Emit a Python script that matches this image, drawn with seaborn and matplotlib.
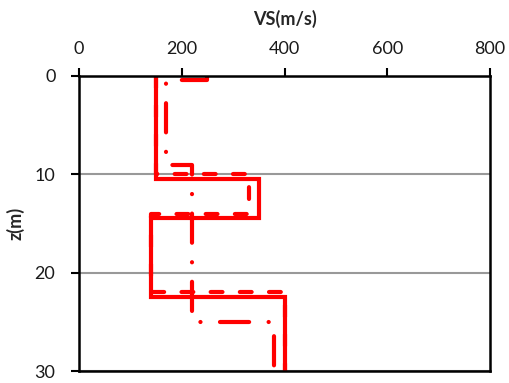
import matplotlib
matplotlib.use("Agg")
import matplotlib.pyplot as plt
import seaborn as sns
import pandas as pd

# Layered shear-wave velocity profiles: layer boundaries (m) and velocity per layer (m/s)
solid_depths = [0, 10.5, 14.4, 22.5, 30]
solid_vs = [150, 350, 140, 400]

dashed_depths = [0, 10.0, 14.0, 22.0, 30]
dashed_vs = [150, 330, 140, 400]

dashdot_depths = [0, 0.4, 9.0, 25.0, 30]
dashdot_vs = [250, 170, 220, 380]

x_ticks = [0, 200, 400, 600, 800]
y_ticks = [0, 10, 20, 30]


def step_profile(depths, vs, name):
    """Expand layer boundaries/velocities into a stair-step path."""
    xs, zs = [], []
    for i, v in enumerate(vs):
        xs += [v, v]
        zs += [depths[i], depths[i + 1]]
    return pd.DataFrame({"VS": xs, "z": zs, "profile": name})


sns.set_theme(style="white")
plt.rcParams["font.family"] = ["Lato", "DejaVu Sans"]
plt.rcParams["lines.scale_dashes"] = False

fig = plt.figure(figsize=(5.09, 3.83), dpi=100)
ax = fig.add_axes([79 / 509, 1 - 371 / 383, (490 - 79) / 509, (371 - 76) / 383])

red = "#FF0000"
lw = 3.0

df_dashdot = step_profile(dashdot_depths, dashdot_vs, "dashdot")
df_dashed = step_profile(dashed_depths, dashed_vs, "dashed")
df_solid = step_profile(solid_depths, solid_vs, "solid")

sns.lineplot(data=df_dashdot, x="VS", y="z", sort=False, estimator=None,
             color=red, lw=lw, ax=ax)
ax.lines[-1].set_dashes((21, 14, 0.1, 14))
ax.lines[-1].set_dash_capstyle("round")

sns.lineplot(data=df_dashed, x="VS", y="z", sort=False, estimator=None,
             color=red, lw=lw, ax=ax)
ax.lines[-1].set_dashes((8.5, 12.5))
ax.lines[-1].set_dash_capstyle("round")

sns.lineplot(data=df_solid, x="VS", y="z", sort=False, estimator=None,
             color=red, lw=lw, ax=ax)
ax.lines[-1].set_solid_capstyle("projecting")
ax.lines[-1].set_solid_joinstyle("miter")

ax.set_xlim(0, 800)
ax.set_ylim(30, 0)
ax.set_xticks(x_ticks)
ax.set_yticks(y_ticks)
ax.xaxis.tick_top()
ax.xaxis.set_label_position("top")

ax.tick_params(axis="both", direction="out", length=6, width=1.5,
               color="black", labelsize=13, labelcolor="#1a1a1a")
ax.tick_params(axis="x", top=True, bottom=False, pad=8)
ax.tick_params(axis="y", left=True, right=False, pad=11)

for sp in ax.spines.values():
    sp.set_visible(True)
    sp.set_color("black")
    sp.set_linewidth(1.8)

ax.yaxis.grid(True, color="#999999", linewidth=1.5)
ax.xaxis.grid(False)
ax.set_axisbelow(True)

ax.set_xlabel("VS(m/s)", fontsize=13, fontweight="bold", labelpad=11)
ax.set_ylabel("z(m)", fontsize=13, fontweight="bold", labelpad=7)

fig.savefig("out.png", dpi=100)
